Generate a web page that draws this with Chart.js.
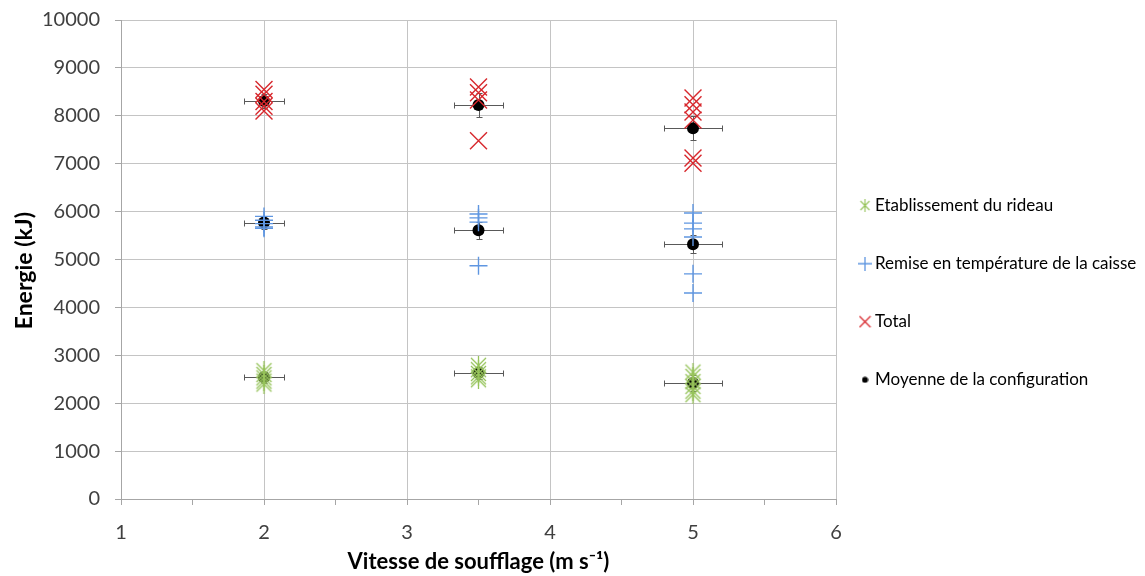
<!DOCTYPE html>
<html>
<head>
<meta charset="utf-8">
<script src="https://cdn.jsdelivr.net/npm/chart.js@4.4.1/dist/chart.umd.min.js"></script>
<style>body{margin:0;background:#fff}</style>
</head>
<body>
<canvas id="energie" width="1145" height="576"></canvas>
<script>
// vitesses de soufflage (m/s)
const vitesses = [2, 3.5, 5];

// essais individuels, un tableau par vitesse
const etablissement = [
  [2680, 2600, 2530, 2460, 2400],
  [2790, 2700, 2620, 2550, 2490],
  [2650, 2560, 2450, 2350, 2250, 2180]
];
const remise = [
  [5900, 5820, 5750, 5680, 5650],
  [5950, 5870, 5780, 4870],
  [5970, 5760, 5640, 5470, 4700, 4300]
];
const total = [
  [8550, 8450, 8300, 8200, 8100],
  [8600, 8480, 8330, 7480],
  [8370, 8230, 8080, 7910, 7120, 7010]
];

// moyennes (etablissement, remise, total)
const moyEtab = [2540, 2630, 2420];
const moyRemise = [5770, 5610, 5320];
const moyTotal = [8310, 8225, 7740];

// barres d'erreur
const errX = [0.14, 0.17, 0.2];
const errYEtab = [110, 130, 160];
const errYRemise = [130, 180, 190];
const errYTotal = [140, 260, 250];

const vert = 'rgb(150,195,90)';
const bleu = 'rgb(95,150,225)';
const rouge = 'rgb(215,40,45)';

function toPoints(groups) {
  const pts = [];
  groups.forEach((g, i) => g.forEach(v => pts.push({x: vitesses[i], y: v})));
  return pts;
}

const moyennes = [moyEtab, moyRemise, moyTotal];
const errY = [errYEtab, errYRemise, errYTotal];
const moyPoints = [];
moyennes.forEach(serie => serie.forEach((v, i) => moyPoints.push({x: vitesses[i], y: v})));

// asterisque (croix + barre verticale) comme dans Excel
function asterisk(size, color, lw) {
  const c = document.createElement('canvas');
  c.width = size; c.height = size;
  const g = c.getContext('2d');
  g.strokeStyle = color; g.lineWidth = lw;
  const m = 1, h = size / 2;
  g.beginPath();
  g.moveTo(m + 1, m + 1); g.lineTo(size - m - 1, size - m - 1);
  g.moveTo(size - m - 1, m + 1); g.lineTo(m + 1, size - m - 1);
  g.moveTo(h, 0); g.lineTo(h, size);
  g.stroke();
  return c;
}
function iconCross(size, color, rot) {
  const c = document.createElement('canvas');
  c.width = size; c.height = size;
  const g = c.getContext('2d');
  g.strokeStyle = color; g.lineWidth = 1.3;
  g.beginPath();
  if (rot) {
    g.moveTo(1, 1); g.lineTo(size - 1, size - 1);
    g.moveTo(size - 1, 1); g.lineTo(1, size - 1);
  } else {
    g.moveTo(size / 2, 0); g.lineTo(size / 2, size);
    g.moveTo(0, size / 2); g.lineTo(size, size / 2);
  }
  g.stroke();
  return c;
}
function iconDot(size) {
  const c = document.createElement('canvas');
  c.width = size; c.height = size;
  const g = c.getContext('2d');
  g.fillStyle = '#000';
  g.beginPath(); g.arc(size / 2, size / 2, size / 2 - 0.5, 0, Math.PI * 2); g.fill();
  return c;
}

const starPoint = asterisk(19, vert, 1.3);
const legendIcons = [asterisk(13, vert, 1.1), iconCross(14, bleu, false), iconCross(13, rouge, true), iconDot(7)];

const errorBars = {
  id: 'errorBars',
  beforeDatasetsDraw(chart) {
    const {ctx, scales: {x, y}} = chart;
    ctx.save();
    ctx.strokeStyle = '#595959';
    ctx.lineWidth = 1;
    moyennes.forEach((serie, s) => serie.forEach((v, i) => {
      const px = Math.round(x.getPixelForValue(vitesses[i])) + 0.5;
      const py = Math.round(y.getPixelForValue(v)) + 0.5;
      const xl = Math.round(x.getPixelForValue(vitesses[i] - errX[i])) + 0.5;
      const xr = Math.round(x.getPixelForValue(vitesses[i] + errX[i])) + 0.5;
      const yt = Math.round(y.getPixelForValue(v + errY[s][i])) + 0.5;
      const yb = Math.round(y.getPixelForValue(v - errY[s][i])) + 0.5;
      ctx.beginPath();
      ctx.moveTo(xl, py); ctx.lineTo(xr, py);
      ctx.moveTo(xl, py - 3); ctx.lineTo(xl, py + 3);
      ctx.moveTo(xr, py - 3); ctx.lineTo(xr, py + 3);
      ctx.moveTo(px, yt); ctx.lineTo(px, yb);
      ctx.moveTo(px - 3, yt); ctx.lineTo(px + 3, yt);
      ctx.moveTo(px - 3, yb); ctx.lineTo(px + 3, yb);
      ctx.stroke();
    }));
    ctx.restore();
  }
};

// let the legend use the space up to the right edge
const legendBox = {
  id: 'legendBox',
  afterLayout(chart) {
    const lg = chart.legend;
    if (!lg) return;
    lg.right = chart.width;
    lg.width = lg.right - lg.left;
    lg.top += 3;
  }
};

const gridGrey = '#c4c4c4';

new Chart(document.getElementById('energie').getContext('2d'), {
  type: 'scatter',
  data: {
    datasets: [
      {
        label: 'Etablissement du rideau',
        data: toPoints(etablissement),
        pointStyle: starPoint,
        borderColor: vert,
        backgroundColor: vert,
        order: 0
      },
      {
        label: 'Remise en température de la caisse',
        data: toPoints(remise),
        pointStyle: 'cross',
        pointRadius: 9,
        borderColor: bleu,
        backgroundColor: bleu,
        borderWidth: 1.4,
        order: 0
      },
      {
        label: 'Total',
        data: toPoints(total),
        pointStyle: 'crossRot',
        pointRadius: 12,
        borderColor: rouge,
        backgroundColor: rouge,
        borderWidth: 1.4,
        order: 0
      },
      {
        label: 'Moyenne de la configuration',
        data: moyPoints,
        pointStyle: 'circle',
        pointRadius: 6,
        borderColor: '#000',
        backgroundColor: '#000',
        borderWidth: 0,
        order: 1 // drawn under the markers
      }
    ]
  },
  options: {
    responsive: false,
    animation: false,
    events: [],
    layout: {padding: {top: 20, left: 11, right: 34, bottom: 0}},
    scales: {
      x: {
        type: 'linear',
        min: 1,
        max: 6,
        afterFit: s => { s.height = 77; },
        ticks: {
          stepSize: 0.5,
          autoSkip: false,
          maxRotation: 0,
          color: '#404040',
          font: {family: 'Lato', size: 20},
          padding: 16,
          callback: v => Number.isInteger(v) ? v : ''
        },
        grid: {
          color: c => (c.tick && Number.isInteger(c.tick.value)) ? gridGrey : 'rgba(0,0,0,0)',
          tickColor: '#a6a6a6',
          tickLength: 6
        },
        border: {color: '#a6a6a6'},
        title: {
          display: true,
          text: 'Vitesse de soufflage (m s⁻¹)',
          color: '#000',
          font: {family: 'Lato', size: 22, weight: 'bold'},
          padding: {top: 2, bottom: 1}
        }
      },
      y: {
        min: 0,
        max: 10000,
        afterFit: s => { s.width = 110; s.paddingTop = 12; s.paddingBottom = 12; },
        ticks: {
          stepSize: 1000,
          color: '#404040',
          font: {family: 'Lato', size: 20},
          padding: 15,
          callback: v => String(v)
        },
        grid: {color: gridGrey, tickColor: '#a6a6a6', tickLength: 6},
        border: {color: '#a6a6a6'},
        title: {
          display: true,
          text: 'Energie (kJ)\u00a0\u00a0\u00a0\u00a0',
          color: '#000',
          font: {family: 'Lato', size: 23, weight: 'bold'},
          padding: {top: 0, bottom: 6}
        }
      }
    },
    plugins: {
      tooltip: {enabled: false},
      legend: {
        position: 'right',
        align: 'center',
        labels: {
          usePointStyle: true,
          boxWidth: 3,
          boxHeight: 10,
          padding: 27.5,
          color: '#000',
          font: {family: 'Lato', size: 17, lineHeight: 1.8},
          sort: (a, b) => a.datasetIndex - b.datasetIndex,
          generateLabels: chart => {
            const items = Chart.defaults.plugins.legend.labels.generateLabels(chart);
            items.forEach(it => {
              it.pointStyle = legendIcons[it.datasetIndex];
              it.text = [it.text];
            });
            return items;
          }
        }
      }
    }
  },
  plugins: [errorBars, legendBox]
});
</script>
</body>
</html>
